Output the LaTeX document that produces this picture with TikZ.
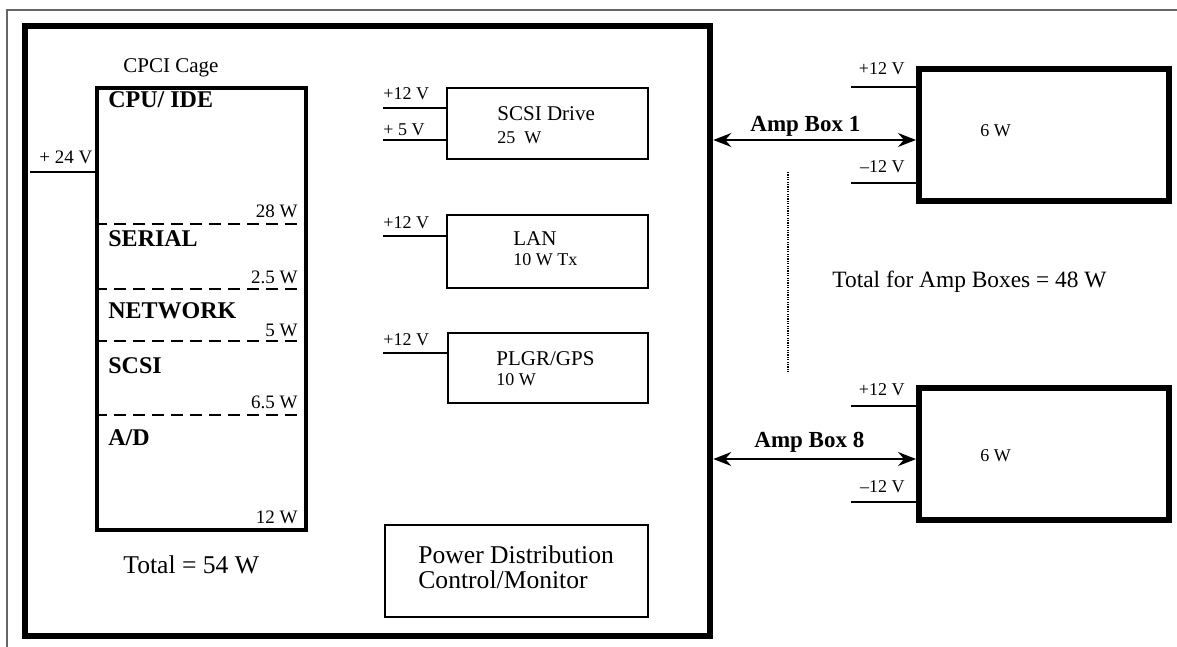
\documentclass[tikz,border=0pt]{standalone}
\usepackage{fontspec}
\setmainfont{Liberation Serif}
\usetikzlibrary{arrows.meta}

\begin{document}
\begin{tikzpicture}[x=0.5pt,y=-0.5pt,
	thickbox/.style={draw, line width=3.3pt, inner sep=0pt},
	ampbox/.style={draw, line width=3pt, inner sep=0pt, minimum width=125pt, minimum height=66pt},
	cagebox/.style={draw, line width=1.6pt, inner sep=0pt},
	unitbox/.style={draw, line width=1.4pt, inner sep=0pt},
	pwr/.style={line width=0.75pt},
	sect/.style={line width=1pt, dash pattern=on 6pt off 3.5pt},
	link/.style={line width=0.8pt, {Stealth[length=9pt,width=7pt,inset=3pt]}-{Stealth[length=9pt,width=7pt,inset=3pt]}},
	volt/.style={inner sep=0pt, font=\fontsize{9}{10}\selectfont},
	watt/.style={inner sep=0pt, font=\fontsize{9.5}{11}\selectfont},
	unit/.style={inner sep=0pt, font=\fontsize{10.5}{12}\selectfont},
	sec/.style={inner sep=0pt, font=\fontsize{12}{14}\selectfont\bfseries},
	ampname/.style={inner sep=0pt, font=\fontsize{11.5}{13}\selectfont\bfseries},
	big/.style={inner sep=0pt, font=\fontsize{12.8}{15}\selectfont}]

	\useasboundingbox (0,0) rectangle (1177,647);

	% page frame
	\draw[line width=0.6pt, gray!80!black] (7,647) -- (7,10) -- (1177,10);

	% Draw boxes
	\node[thickbox, minimum width=342.5pt, minimum height=305pt] (frame) at (367.5,331) {};
	\node[cagebox, minimum width=104.5pt, minimum height=221pt] (cage) at (201.5,309) {};
	\node[unitbox, minimum width=100.5pt, minimum height=35.5pt] (drive) at (547.5,123.5) {};
	\node[unitbox, minimum width=100.5pt, minimum height=36.5pt] (lan) at (547.5,251.5) {};
	\node[unitbox, minimum width=100pt, minimum height=35pt] (gps) at (548,368) {};
	\node[unitbox, minimum width=131.5pt, minimum height=46pt] (pdcm) at (516.5,571) {};
	\node[ampbox] (amp1) at (1044,135) {};
	\node[ampbox] (amp8) at (1044,454) {};

	% cage sections
	\foreach \y in {224,289,341,415}
		\draw[sect] (cage.west |- 0,\y) -- (cage.east |- 0,\y);

	% Labels
	\node[unit, anchor=base west] (cagename) at (123,73) {CPCI Cage};
	\node[sec, anchor=base west] (cpu) at (108,108) {CPU/ IDE};
	\node[sec, anchor=base west] (serial) at (108,246) {SERIAL};
	\node[sec, anchor=base west] (network) at (108,318) {NETWORK};
	\node[sec, anchor=base west] (scsi) at (108,373) {SCSI};
	\node[sec, anchor=base west] (ad) at (108,445) {A/D};
	\node[watt, anchor=base east] (wcpu) at (298,217) {28 W};
	\node[watt, anchor=base east] (wserial) at (298,283) {2.5 W};
	\node[watt, anchor=base east] (wnetwork) at (298,336) {5 W};
	\node[watt, anchor=base east] (wscsi) at (298,408) {6.5 W};
	\node[watt, anchor=base east] (wad) at (298,523) {12 W};
	\node[big, anchor=base west] (cagetotal) at (123,573) {Total = 54 W};

	% supply lines
	\node[watt, anchor=base west] (v24) at (39,163) {+ 24 V};
	\coordinate (c24) at (30,172);
	\draw[pwr] (c24) -- (c24 -| cage.west);

	\node[volt, anchor=base west] (vdrive12) at (383,99) {+12 V};
	\node[volt, anchor=base west] (vdrive5) at (383,135) {+ 5 V};
	\node[volt, anchor=base west] (vlan) at (383,228) {+12 V};
	\node[volt, anchor=base west] (vgps) at (383,345) {+12 V};
	\coordinate (cdrive12) at (383,108);
	\coordinate (cdrive5) at (383,140);
	\coordinate (clan) at (383,236);
	\coordinate (cgps) at (383,353);
	\draw[pwr] (cdrive12) -- (cdrive12 -| drive.west);
	\draw[pwr] (cdrive5) -- (cdrive5 -| drive.west);
	\draw[pwr] (clan) -- (clan -| lan.west);
	\draw[pwr] (cgps) -- (cgps -| gps.west);

	\node[unit, anchor=base west] (tdrive) at (497,120) {SCSI Drive};
	\node[volt, anchor=base west] (wdrive) at (497,143) {25~~W};
	\node[unit, anchor=base west] (tlan) at (513,245) {LAN};
	\node[volt, anchor=base west] (wlan) at (513,265) {10 W Tx};
	\node[unit, anchor=base west] (tgps) at (496,365) {PLGR/GPS};
	\node[volt, anchor=base west] (wgps) at (496,385) {10 W};
	\node[big, anchor=base west] (tpdcm1) at (418,563) {Power Distribution};
	\node[big, anchor=base west] (tpdcm2) at (418,588) {Control/Monitor};

	% amp boxes
	\coordinate (a1p) at (851,87);
	\coordinate (a1m) at (851,183);
	\coordinate (a8p) at (851,406);
	\coordinate (a8m) at (851,502);
	\draw[pwr] (a1p) -- (a1p -| amp1.west);
	\draw[pwr] (a1m) -- (a1m -| amp1.west);
	\draw[pwr] (a8p) -- (a8p -| amp8.west);
	\draw[pwr] (a8m) -- (a8m -| amp8.west);
	\node[volt, anchor=base east] (va1p) at (905,75) {+12 V};
	\node[volt, anchor=base east] (va1m) at (905,172) {\textendash12 V};
	\node[volt, anchor=base east] (va8p) at (905,395) {+12 V};
	\node[volt, anchor=base east] (va8m) at (905,492) {\textendash12 V};
	\node[volt, anchor=base west] (wa1) at (980,136) {6 W};
	\node[volt, anchor=base west] (wa8) at (980,461) {6 W};

	\coordinate (a1in) at ([yshift=-2.5pt]amp1.west);
	\coordinate (a8in) at ([yshift=-2.5pt]amp8.west);
	\draw[link] (a1in -| frame.east) -- (a1in);
	\draw[link] (a8in -| frame.east) -- (a8in);
	\node[ampname, anchor=base west] (na1) at (750,132) {Amp Box 1};
	\node[ampname, anchor=base west] (na8) at (754,447) {Amp Box 8};

	\coordinate (dtop) at (788,172);
	\coordinate (dbot) at (788,372);
	\draw[line width=0.6pt, dash pattern=on 0.6pt off 0.6pt] (dtop) -- (dbot);

	\node[big, anchor=base west, font=\fontsize{11.7}{14}\selectfont] (amptotal) at (832,287) {Total for Amp Boxes = 48 W};

\end{tikzpicture}
\end{document}
